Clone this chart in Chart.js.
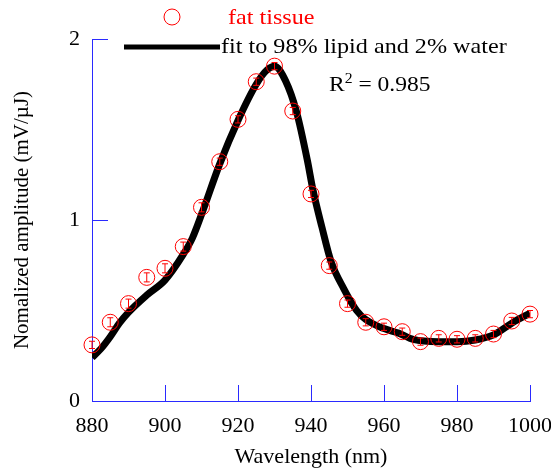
<!DOCTYPE html>
<html>
<head>
<meta charset="utf-8">
<script src="https://cdn.jsdelivr.net/npm/chart.js@4.4.0/dist/chart.umd.min.js"></script>
<style>
  body { margin: 0; background: #fff; }
  #wrap { width: 551px; height: 470px; }
</style>
</head>
<body>
<div id="wrap"><canvas id="myChart" width="551" height="470"></canvas></div>
<script>
    // measured points (fat tissue)
    const wavelengths = [880, 885, 890, 895, 900, 905, 910, 915, 920, 925, 930, 935, 940,
                         945, 950, 955, 960, 965, 970, 975, 980, 985, 990, 995, 1000];
    const tissue = [0.31, 0.435, 0.538, 0.683, 0.733, 0.853, 1.07, 1.322, 1.556, 1.764, 1.85, 1.602, 1.144,
                    0.748, 0.538, 0.435, 0.41, 0.383, 0.328, 0.346, 0.341, 0.346, 0.37, 0.442, 0.48];
    const errs = [0.02, 0.025, 0.025, 0.025, 0.025, 0.025, 0.025, 0.02, 0.02, 0.02, 0.02, 0.02, 0.02,
                  0.02, 0.02, 0.02, 0.02, 0.02, 0.02, 0.02, 0.02, 0.02, 0.02, 0.02, 0.02];

    // fit curve
    const fitX = [880, 882.5, 885, 887.5, 890, 895, 900, 905, 907.5, 910, 915, 920, 925, 928, 930,
                  933, 936, 939, 940.5, 943, 945.5, 949, 952.5, 955, 960, 964, 968, 975, 980, 985,
                  990, 995, 1000];
    const fitY = [0.24, 0.29, 0.355, 0.43, 0.49, 0.585, 0.668, 0.81, 0.9, 1.03, 1.31, 1.55, 1.75, 1.83, 1.85,
                  1.77, 1.60, 1.33, 1.17, 0.96, 0.77, 0.62, 0.50, 0.45, 0.40, 0.375, 0.34, 0.328, 0.328, 0.337,
                  0.365, 0.43, 0.485];

    const xTicks = [880, 900, 920, 940, 960, 980, 1000];
    const yTicks = [0, 1, 2];

    const serif = "'Liberation Serif', 'Times New Roman', serif";
    const axisBlue = '#2a2aff';

    // draw text stretched a bit wider, like the original figure
    function wideText(ctx, txt, x, y, sx) {
      ctx.save();
      ctx.translate(x, y);
      ctx.scale(sx, 1);
      ctx.fillText(txt, 0, 0);
      const w = ctx.measureText(txt).width * sx;
      ctx.restore();
      return w;
    }

    // inward tick marks + error bars + legend text
    const extras = {
      id: 'extras',
      afterDatasetsDraw(chart) {
        const ctx = chart.ctx;
        const xs = chart.scales.x, ys = chart.scales.y;
        ctx.save();
        ctx.strokeStyle = 'red';
        ctx.lineWidth = 1;
        for (let i = 0; i < wavelengths.length; i++) {
          const px = xs.getPixelForValue(wavelengths[i]);
          const p1 = ys.getPixelForValue(tissue[i] - errs[i]);
          const p2 = ys.getPixelForValue(tissue[i] + errs[i]);
          ctx.beginPath();
          ctx.moveTo(px, p1); ctx.lineTo(px, p2);
          ctx.moveTo(px - 3, p1); ctx.lineTo(px + 3, p1);
          ctx.moveTo(px - 3, p2); ctx.lineTo(px + 3, p2);
          ctx.stroke();
        }
        ctx.restore();
      },
      afterDraw(chart) {
        const ctx = chart.ctx;
        const xs = chart.scales.x, ys = chart.scales.y;
        const area = chart.chartArea;
        ctx.save();
        ctx.strokeStyle = axisBlue;
        ctx.lineWidth = 1;
        ctx.beginPath();
        xTicks.slice(1).forEach(v => {
          const px = Math.round(xs.getPixelForValue(v)) + 0.5;
          ctx.moveTo(px, area.bottom); ctx.lineTo(px, area.bottom - 16);
        });
        yTicks.slice(1).forEach(v => {
          const py = Math.round(ys.getPixelForValue(v)) + 0.5;
          ctx.moveTo(area.left, py); ctx.lineTo(area.left + 16, py);
        });
        ctx.stroke();

        // legend
        ctx.font = '21px ' + serif;
        ctx.textBaseline = 'middle';
        ctx.strokeStyle = 'red';
        ctx.beginPath();
        ctx.arc(172, 17, 8, 0, Math.PI * 2);
        ctx.stroke();
        ctx.fillStyle = 'red';
        wideText(ctx, 'fat tissue', 228, 18, 1.15);

        ctx.strokeStyle = '#000';
        ctx.lineWidth = 5;
        ctx.beginPath();
        ctx.moveTo(124, 47); ctx.lineTo(220, 47);
        ctx.stroke();
        ctx.fillStyle = '#000';
        wideText(ctx, 'fit to 98% lipid and 2% water', 221, 47, 1.15);

        let x = 329;
        x += wideText(ctx, 'R', x, 85, 1.12);
        ctx.font = '14px ' + serif;
        x += wideText(ctx, '2', x, 79, 1.12);
        ctx.font = '21px ' + serif;
        wideText(ctx, ' = 0.985', x, 85, 1.12);
        ctx.restore();
      }
    };

    function drawChart() {
      const ctx = document.getElementById('myChart').getContext('2d');
      const fitData = fitX.map((v, i) => ({x: v, y: fitY[i]}));
      const tissueData = wavelengths.map((v, i) => ({x: v, y: tissue[i]}));

      new Chart(ctx, {
        type: 'scatter',
        data: {
          datasets: [{
            label: 'fat tissue',
            data: tissueData,
            pointStyle: 'circle',
            pointRadius: 8,
            pointBorderColor: 'red',
            pointBackgroundColor: 'rgba(0,0,0,0)',
            pointBorderWidth: 1,
            showLine: false,
            clip: false,
            order: 0
          }, {
            label: 'fit to 98% lipid and 2% water',
            data: fitData,
            showLine: true,
            borderColor: '#000',
            borderWidth: 7,
            pointRadius: 0,
            cubicInterpolationMode: 'monotone',
            order: 1
          }]
        },
        options: {
          responsive: false,
          animation: false,
          layout: { padding: { top: 39, right: 21, left: 0, bottom: 0 } },
          plugins: { legend: { display: false }, tooltip: { enabled: false } },
          scales: {
            x: {
              type: 'linear',
              min: 880, max: 1000,
              afterBuildTicks: s => { s.ticks = xTicks.map(v => ({value: v})); },
              afterFit: s => { s.height = 69; s.paddingLeft = 0; s.paddingRight = 0; },
              grid: { display: true, drawOnChartArea: false, drawTicks: false },
              border: { color: axisBlue, width: 1 },
              ticks: { color: '#000', padding: 12, callback: v => String(v),
                       font: { family: serif, size: 22 } },
              title: { display: true, text: 'Wavelength (nm)', color: '#000', padding: 0,
                       font: { family: serif, size: 22 } }
            },
            y: {
              min: 0, max: 2,
              afterBuildTicks: s => { s.ticks = yTicks.map(v => ({value: v})); },
              afterFit: s => { s.width = 92; s.paddingTop = 0; s.paddingBottom = 0; },
              grid: { display: true, drawOnChartArea: false, drawTicks: false },
              border: { color: axisBlue, width: 1 },
              ticks: { color: '#000', padding: 12, callback: v => String(v),
                       font: { family: serif, size: 22 } },
              title: { display: true, text: 'Nomalized amplitude (mV/µJ)', color: '#000',
                       padding: { top: 10, bottom: 0 }, font: { family: serif, size: 21 } }
            }
          }
        },
        plugins: [extras]
      });
    }

    drawChart();
</script>
</body>
</html>
